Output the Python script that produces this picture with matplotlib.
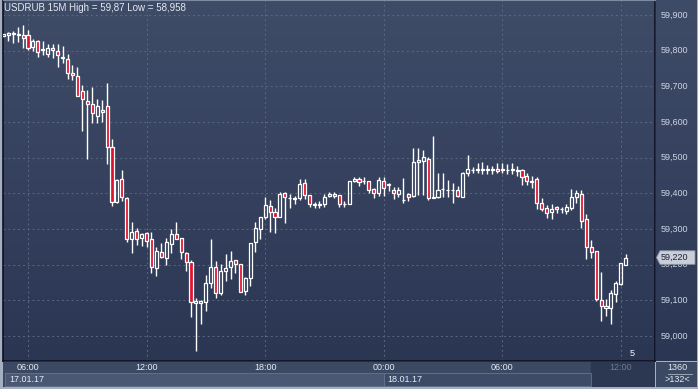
import numpy as np
import pandas as pd
import matplotlib
matplotlib.use('Agg')
import matplotlib.pyplot as plt
from matplotlib.colors import LinearSegmentedColormap
from matplotlib.patches import Polygon, Rectangle

# 15M candles, USDRUB, 17.01.17 04:45 .. 18.01.17 12:15
opens = [59.840, 59.843, 59.846, 59.843, 59.844, 59.844, 59.809, 59.828, 59.801, 59.790,
         59.807, 59.798, 59.779, 59.776, 59.737, 59.729, 59.687, 59.659, 59.650, 59.618,
         59.634, 59.645, 59.529, 59.375, 59.439, 59.386, 59.273, 59.294, 59.274, 59.288,
         59.272, 59.191, 59.235, 59.219, 59.257, 59.285, 59.274, 59.232, 59.207, 59.092,
         59.093, 59.094, 59.148, 59.193, 59.121, 59.183, 59.194, 59.213, 59.201, 59.127,
         59.164, 59.263, 59.301, 59.334, 59.364, 59.348, 59.333, 59.401, 59.386, 59.384,
         59.386, 59.428, 59.394, 59.368, 59.367, 59.369, 59.393, 59.398, 59.395, 59.370,
         59.371, 59.436, 59.440, 59.434, 59.434, 59.411, 59.402, 59.434, 59.424, 59.409,
         59.398, 59.380, 59.398, 59.392, 59.487, 59.491, 59.495, 59.388, 59.390, 59.411,
         59.408, 59.409, 59.409, 59.390, 59.458, 59.465, 59.465, 59.466, 59.465, 59.466,
         59.468, 59.465, 59.465, 59.465, 59.466, 59.465, 59.449, 59.434, 59.440, 59.372,
         59.358, 59.348, 59.361, 59.356, 59.351, 59.360, 59.390, 59.398, 59.328, 59.249,
         59.238, 59.101, 59.084, 59.078, 59.118, 59.146, 59.199]
highs = [59.848, 59.853, 59.855, 59.866, 59.872, 59.858, 59.832, 59.830, 59.827, 59.819,
         59.819, 59.819, 59.813, 59.791, 59.760, 59.755, 59.704, 59.690, 59.699, 59.664,
         59.662, 59.710, 59.552, 59.440, 59.465, 59.390, 59.320, 59.302, 59.290, 59.292,
         59.291, 59.250, 59.261, 59.274, 59.299, 59.320, 59.275, 59.236, 59.213, 59.107,
         59.101, 59.171, 59.272, 59.210, 59.201, 59.230, 59.239, 59.213, 59.201, 59.166,
         59.260, 59.320, 59.333, 59.390, 59.381, 59.358, 59.404, 59.404, 59.397, 59.393,
         59.440, 59.440, 59.394, 59.376, 59.378, 59.397, 59.404, 59.404, 59.395, 59.378,
         59.436, 59.445, 59.445, 59.445, 59.435, 59.416, 59.447, 59.445, 59.428, 59.418,
         59.418, 59.442, 59.400, 59.526, 59.526, 59.521, 59.503, 59.561, 59.458, 59.456,
         59.437, 59.428, 59.420, 59.461, 59.507, 59.475, 59.486, 59.489, 59.479, 59.477,
         59.484, 59.484, 59.482, 59.484, 59.477, 59.467, 59.458, 59.449, 59.447, 59.386,
         59.367, 59.369, 59.364, 59.362, 59.370, 59.413, 59.409, 59.409, 59.342, 59.269,
         59.238, 59.180, 59.104, 59.129, 59.154, 59.204, 59.230]
lows = [59.838, 59.828, 59.821, 59.825, 59.807, 59.802, 59.800, 59.781, 59.788, 59.781,
        59.779, 59.755, 59.765, 59.721, 59.718, 59.673, 59.576, 59.497, 59.596, 59.598,
        59.601, 59.482, 59.365, 59.372, 59.379, 59.264, 59.233, 59.255, 59.252, 59.249,
        59.177, 59.168, 59.218, 59.199, 59.233, 59.272, 59.215, 59.183, 59.054, 58.958,
        59.035, 59.071, 59.136, 59.106, 59.115, 59.155, 59.159, 59.176, 59.124, 59.115,
        59.140, 59.236, 59.272, 59.329, 59.291, 59.288, 59.333, 59.316, 59.360, 59.369,
        59.381, 59.385, 59.362, 59.358, 59.358, 59.361, 59.389, 59.388, 59.361, 59.362,
        59.369, 59.433, 59.421, 59.427, 59.402, 59.388, 59.393, 59.393, 59.407, 59.384,
        59.390, 59.374, 59.378, 59.390, 59.395, 59.395, 59.381, 59.386, 59.388, 59.390,
        59.390, 59.372, 59.390, 59.390, 59.449, 59.458, 59.456, 59.454, 59.454, 59.453,
        59.458, 59.456, 59.454, 59.453, 59.449, 59.423, 59.423, 59.414, 59.356, 59.351,
        59.330, 59.328, 59.344, 59.344, 59.341, 59.353, 59.372, 59.302, 59.215, 59.219,
        59.099, 59.043, 59.056, 59.035, 59.096, 59.143, 59.199]
closes = [59.846, 59.849, 59.849, 59.846, 59.835, 59.807, 59.827, 59.795, 59.805, 59.807,
          59.801, 59.787, 59.782, 59.737, 59.731, 59.674, 59.664, 59.650, 59.624, 59.645,
          59.627, 59.531, 59.375, 59.437, 59.390, 59.273, 59.291, 59.271, 59.285, 59.267,
          59.194, 59.238, 59.222, 59.263, 59.285, 59.273, 59.235, 59.207, 59.094, 59.098,
          59.098, 59.148, 59.194, 59.120, 59.182, 59.192, 59.210, 59.201, 59.124, 59.164,
          59.260, 59.302, 59.333, 59.366, 59.347, 59.333, 59.397, 59.389, 59.388, 59.386,
          59.426, 59.394, 59.370, 59.369, 59.369, 59.390, 59.398, 59.392, 59.371, 59.371,
          59.434, 59.440, 59.431, 59.435, 59.408, 59.402, 59.437, 59.416, 59.425, 59.402,
          59.409, 59.381, 59.390, 59.487, 59.493, 59.503, 59.388, 59.389, 59.408, 59.412,
          59.410, 59.410, 59.393, 59.458, 59.467, 59.466, 59.467, 59.467, 59.467, 59.467,
          59.463, 59.467, 59.466, 59.467, 59.464, 59.445, 59.435, 59.433, 59.372, 59.356,
          59.346, 59.355, 59.355, 59.357, 59.361, 59.390, 59.402, 59.322, 59.249, 59.236,
          59.104, 59.085, 59.078, 59.120, 59.148, 59.204, 59.220]

times = pd.date_range('2017-01-17 04:45', periods=len(opens), freq='15min')
price_ticks = [59.0, 59.1, 59.2, 59.3, 59.4, 59.5, 59.6, 59.7, 59.8, 59.9]
last_price = 59.220

W, H = 698, 389
fig = plt.figure(figsize=(W / 100, H / 100), dpi=100, facecolor='#a4afc0')


def box(x0, y0, x1, y1):
    # pixel box, y measured from the top
    return [x0 / W, 1 - y1 / H, (x1 - x0) / W, (y1 - y0) / H]


bg = LinearSegmentedColormap.from_list('bg', ['#3f4c68', '#2b3653'])
grad = np.linspace(0, 1, 256).reshape(-1, 1)
ymin, ymax = 58.930, 59.942
xmin = -0.06
xmax = xmin + 652 / 4.94

ax = fig.add_axes(box(3, 0, 655, 361))
ax.imshow(grad, extent=[xmin, xmax, ymin, ymax], aspect='auto', cmap=bg, zorder=0)
ax.set_xlim(xmin, xmax)
ax.set_ylim(ymin, ymax)

# grid
ticks_x = [i for i, t in enumerate(times) if t.minute == 0 and t.hour % 6 == 0]
for i in ticks_x:
    ax.axvline(i, color='#5a6884', lw=0.7, ls=(0, (2, 3)), zorder=1)
for p in price_ticks:
    ax.axhline(p, color='#5a6884', lw=0.7, ls=(0, (2, 3)), zorder=1)

# candles
x = np.arange(len(opens))
o = np.array(opens)
c = np.array(closes)
top = np.maximum(o, c)
bot = np.minimum(o, c)
ax.vlines(x, top, highs, color='white', lw=1.0, zorder=2)
ax.vlines(x, lows, bot, color='white', lw=1.0, zorder=2)
down = c < o
ax.bar(x[down], (top - bot)[down], bottom=bot[down], width=0.62,
       color='#e0122e', edgecolor='white', lw=0.9, zorder=3)
ax.bar(x[~down], (top - bot)[~down], bottom=bot[~down], width=0.62,
       color='none', edgecolor='white', lw=0.9, zorder=3)

ax.set_xticks([])
ax.set_yticks([])
for s in ['left', 'right', 'bottom']:
    ax.spines[s].set_color('#0c1120')
    ax.spines[s].set_linewidth(1.2)
ax.spines['top'].set_color('#7d8aa0')

fig.text(4 / W, 1 - 8 / H, 'USDRUB 15M High = 59,87 Low = 58,958',
         color='#e4e9f2', fontsize=7, family='Liberation Sans', va='center', ha='left')
fig.text(632 / W, 1 - 354 / H, '5', color='white', fontsize=6.5,
         family='Liberation Sans', va='center', ha='center')

# right price scale
axr = fig.add_axes(box(656, 0, 697, 361))
axr.imshow(grad, extent=[0, 41, ymin, ymax], aspect='auto', cmap=bg, zorder=0)
axr.set_xlim(0, 41)
axr.set_ylim(ymin, ymax)
axr.axis('off')
for p in price_ticks:
    axr.text(5, p, f'{p:.3f}'.replace('.', ','), color='#cdd5e4', fontsize=6.5,
             family='Liberation Sans', va='center', ha='left', zorder=2)
hh = 0.019
axr.add_patch(Polygon([[0.5, last_price], [4, last_price + hh], [39, last_price + hh],
                       [39, last_price - hh], [4, last_price - hh]],
                      closed=True, facecolor='#c9ced8', edgecolor='#8a93a6', lw=0.6, zorder=3))
axr.text(5, last_price, f'{last_price:.3f}'.replace('.', ','), color='#1c2233', fontsize=6.5,
         family='Liberation Sans', va='center', ha='left', zorder=4)

# bottom time scale
axb = fig.add_axes(box(3, 362, 655, 387))
axb.set_xlim(xmin, xmax)
axb.set_ylim(25, 0)
axb.axis('off')
axb.add_patch(Rectangle((xmin, 0), xmax - xmin, 25, color='#3c4963', zorder=0))
x_end = xmin + 588 / 4.94
axb.add_patch(Rectangle((x_end, 0), xmax - x_end, 25, color='#2c3751', zorder=1))
x_mid = 77
axb.add_patch(Rectangle((xmin + 0.5, 11), x_mid - xmin - 0.5, 13, facecolor='#4a5873',
                        edgecolor='#66748e', lw=0.6, zorder=1))
axb.add_patch(Rectangle((x_mid, 11), x_end - x_mid, 13, facecolor='#3e4b66',
                        edgecolor='#66748e', lw=0.6, zorder=1))
for i in ticks_x:
    col = '#6d7a94' if i > 120 else '#e6ebf4'
    axb.text(i, 6, times[i].strftime('%H:%M'), color=col, fontsize=6.5,
             family='Liberation Sans', ha='center', va='center', zorder=2)
axb.text(xmin + 1.2, 18, times[0].strftime('%d.%m.%y'), color='#e6ebf4', fontsize=6.5,
         family='Liberation Sans', ha='left', va='center', zorder=2)
axb.text(x_mid + 0.8, 18, times[x_mid].strftime('%d.%m.%y'), color='#e6ebf4', fontsize=6.5,
         family='Liberation Sans', ha='left', va='center', zorder=2)

# corner box
axc = fig.add_axes(box(656, 362, 697, 387))
axc.set_xlim(0, 41)
axc.set_ylim(25, 0)
axc.axis('off')
axc.add_patch(Rectangle((0, 0), 41, 25, color='#3c4963', zorder=0))
axc.plot([12, 36], [11.5, 11.5], color='#aab4c6', lw=0.6)
axc.text(21, 6, '1360', color='#e6ebf4', fontsize=6.5, family='Liberation Sans',
         ha='center', va='center')
axc.text(21, 18, '>132<', color='#e6ebf4', fontsize=6.5, family='Liberation Sans',
         ha='center', va='center')

fig.savefig('out.png', dpi=100, facecolor=fig.get_facecolor())
